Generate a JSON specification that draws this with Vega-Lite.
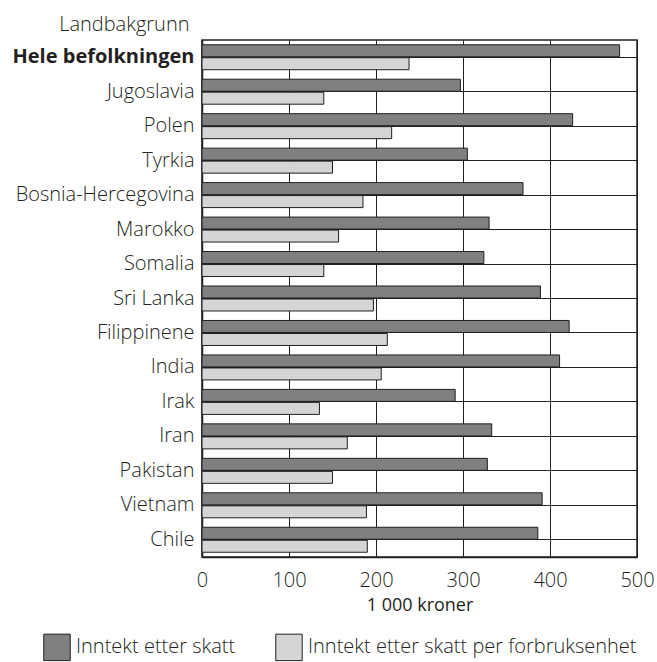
{
  "$schema": "https://vega.github.io/schema/vega-lite/v6.json",
  "width": 435,
  "height": 517,
  "autosize": {"type": "none"},
  "padding": {"left": 202, "top": 40, "right": 20, "bottom": 105},
  "background": "white",
  "data": {
    "values": [
      {"land": "Hele befolkningen", "type": "Inntekt etter skatt", "value": 480},
      {"land": "Hele befolkningen", "type": "Inntekt etter skatt per forbruksenhet", "value": 238},
      {"land": "Jugoslavia", "type": "Inntekt etter skatt", "value": 297},
      {"land": "Jugoslavia", "type": "Inntekt etter skatt per forbruksenhet", "value": 140},
      {"land": "Polen", "type": "Inntekt etter skatt", "value": 426},
      {"land": "Polen", "type": "Inntekt etter skatt per forbruksenhet", "value": 218},
      {"land": "Tyrkia", "type": "Inntekt etter skatt", "value": 305},
      {"land": "Tyrkia", "type": "Inntekt etter skatt per forbruksenhet", "value": 150},
      {"land": "Bosnia-Hercegovina", "type": "Inntekt etter skatt", "value": 369},
      {"land": "Bosnia-Hercegovina", "type": "Inntekt etter skatt per forbruksenhet", "value": 185},
      {"land": "Marokko", "type": "Inntekt etter skatt", "value": 330},
      {"land": "Marokko", "type": "Inntekt etter skatt per forbruksenhet", "value": 157},
      {"land": "Somalia", "type": "Inntekt etter skatt", "value": 324},
      {"land": "Somalia", "type": "Inntekt etter skatt per forbruksenhet", "value": 140},
      {"land": "Sri Lanka", "type": "Inntekt etter skatt", "value": 389},
      {"land": "Sri Lanka", "type": "Inntekt etter skatt per forbruksenhet", "value": 197},
      {"land": "Filippinene", "type": "Inntekt etter skatt", "value": 422},
      {"land": "Filippinene", "type": "Inntekt etter skatt per forbruksenhet", "value": 213},
      {"land": "India", "type": "Inntekt etter skatt", "value": 411},
      {"land": "India", "type": "Inntekt etter skatt per forbruksenhet", "value": 206},
      {"land": "Irak", "type": "Inntekt etter skatt", "value": 291},
      {"land": "Irak", "type": "Inntekt etter skatt per forbruksenhet", "value": 135},
      {"land": "Iran", "type": "Inntekt etter skatt", "value": 333},
      {"land": "Iran", "type": "Inntekt etter skatt per forbruksenhet", "value": 167},
      {"land": "Pakistan", "type": "Inntekt etter skatt", "value": 328},
      {"land": "Pakistan", "type": "Inntekt etter skatt per forbruksenhet", "value": 150},
      {"land": "Vietnam", "type": "Inntekt etter skatt", "value": 391},
      {"land": "Vietnam", "type": "Inntekt etter skatt per forbruksenhet", "value": 189},
      {"land": "Chile", "type": "Inntekt etter skatt", "value": 386},
      {"land": "Chile", "type": "Inntekt etter skatt per forbruksenhet", "value": 190}
    ]
  },
  "mark": {"type": "bar", "stroke": "#231f20", "strokeWidth": 1},
  "encoding": {
    "y": {
      "field": "land",
      "type": "nominal",
      "sort": null,
      "scale": {"paddingInner": 0.275, "paddingOuter": 0.1375},
      "axis": {
        "title": "Landbakgrunn",
        "titleAngle": 0,
        "titleAlign": "right",
        "titleBaseline": "alphabetic",
        "titleX": -13,
        "titleY": -10,
        "titleFontWeight": 300,
        "titleFontSize": 20,
        "titleColor": "#231f20",
        "labelFontSize": 20,
        "labelColor": "#231f20",
        "labelFontWeight": {"condition": {"test": "datum.value === 'Hele befolkningen'", "value": "bold"}, "value": 300},
        "labelLimit": 0,
        "labelPadding": 8,
        "ticks": false,
        "tickSize": 0,
        "grid": true,
        "bandPosition": 0.5,
        "gridColor": "#231f20",
        "gridWidth": 1,
        "gridOpacity": 1,
        "domainColor": "#231f20",
        "domainWidth": 1.5
      }
    },
    "yOffset": {
      "field": "type",
      "type": "nominal",
      "sort": ["Inntekt etter skatt", "Inntekt etter skatt per forbruksenhet"],
      "scale": {"paddingInner": 0.08, "paddingOuter": 0}
    },
    "x": {
      "field": "value",
      "type": "quantitative",
      "scale": {"domain": [0, 500], "nice": false},
      "axis": {
        "title": "1 000 kroner",
        "values": [0, 100, 200, 300, 400, 500],
        "titleFontWeight": "normal",
        "titleFontSize": 18,
        "titleColor": "#231f20",
        "titlePadding": 6,
        "labelFontSize": 20,
        "labelFontWeight": 300,
        "labelColor": "#231f20",
        "labelPadding": 13,
        "labelFlush": false,
        "ticks": false,
        "tickSize": 0,
        "grid": true,
        "gridColor": "#231f20",
        "gridWidth": 1,
        "gridOpacity": 1,
        "domainColor": "#231f20",
        "domainWidth": 1.5
      }
    },
    "color": {
      "field": "type",
      "type": "nominal",
      "sort": ["Inntekt etter skatt", "Inntekt etter skatt per forbruksenhet"],
      "scale": {"range": ["#7f8080", "#d4d5d6"]},
      "legend": {
        "title": null,
        "orient": "none",
        "direction": "horizontal",
        "legendX": -159,
        "legendY": 593,
        "symbolType": "square",
        "symbolSize": 700,
        "symbolStrokeColor": "#231f20",
        "symbolStrokeWidth": 1,
        "symbolOpacity": 1,
        "labelFontSize": 20,
        "labelFontWeight": 300,
        "labelColor": "#231f20",
        "labelOffset": 5,
        "labelLimit": 0,
        "columnPadding": 37,
        "padding": 0
      }
    }
  },
  "config": {
    "font": "Open Sans",
    "view": {"stroke": "#231f20", "strokeWidth": 1.5}
  }
}
